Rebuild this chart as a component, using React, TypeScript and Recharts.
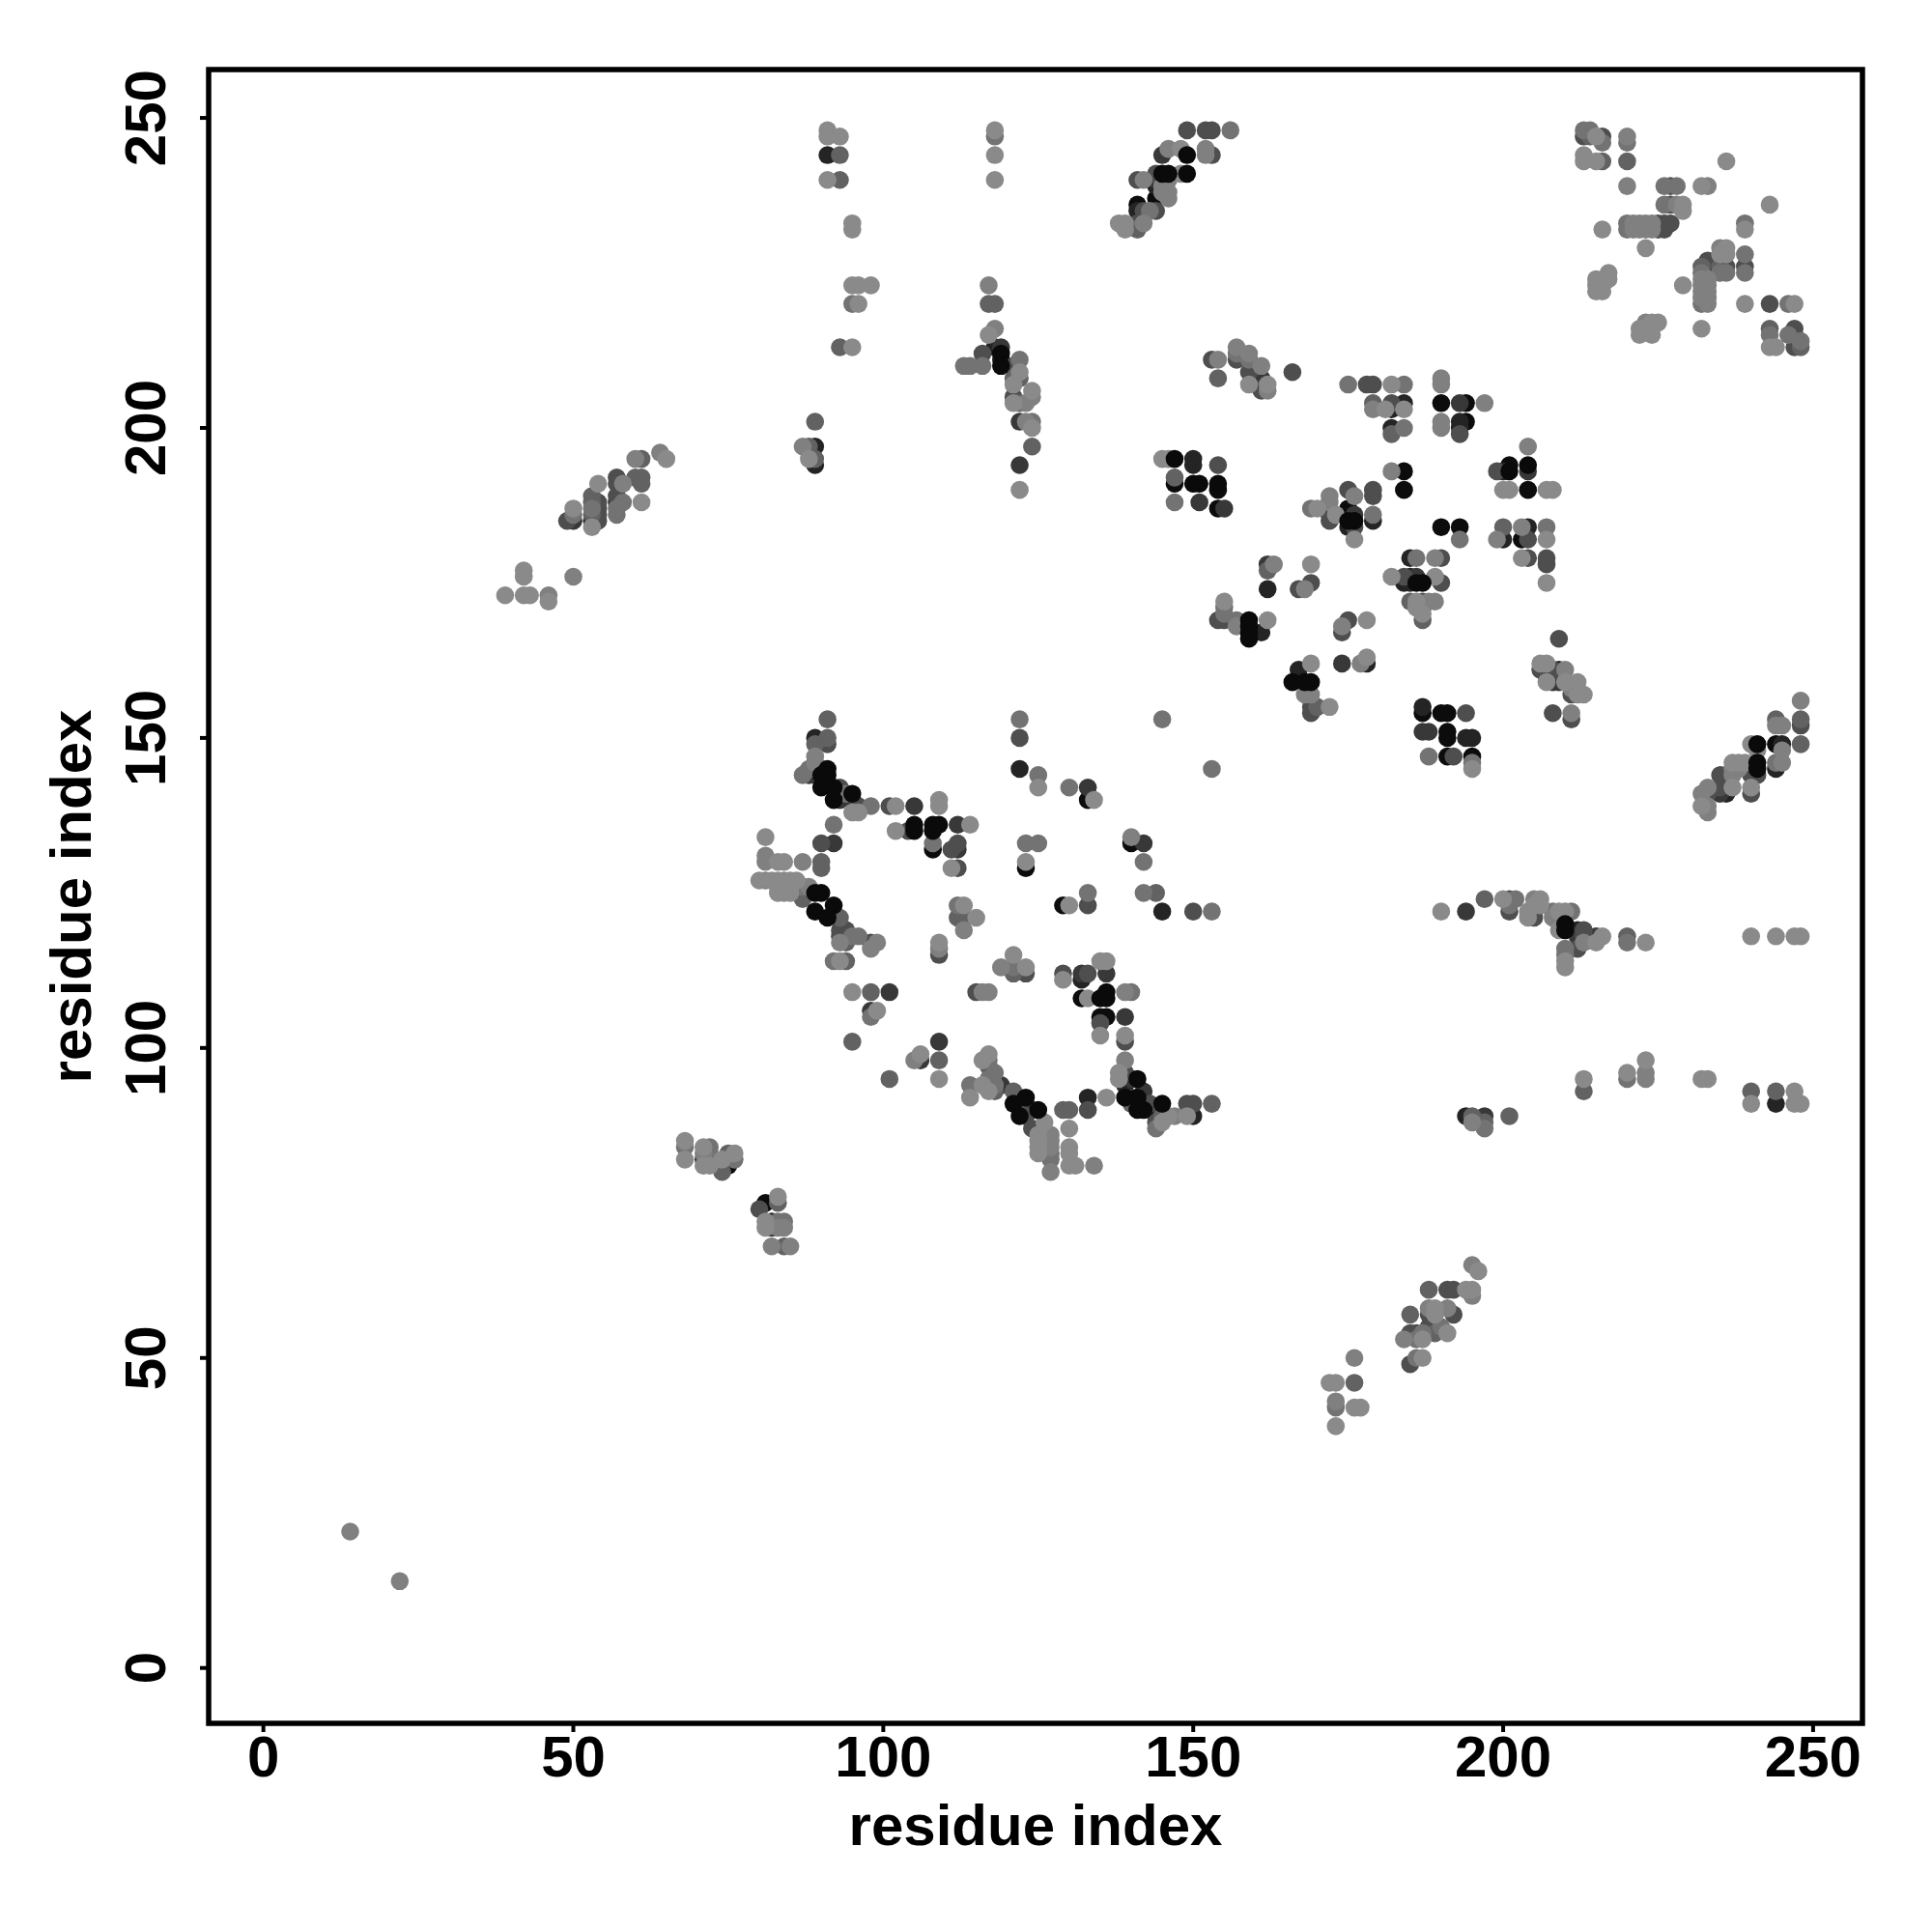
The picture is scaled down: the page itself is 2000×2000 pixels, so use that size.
import React from 'react';
import { ScatterChart, Scatter, XAxis, YAxis, ReferenceArea } from 'recharts';

type Pair = [number, number];

const X_DOMAIN: [number, number] = [-8.83, 257.96];
const Y_DOMAIN: [number, number] = [-8.93, 257.8];
const TICK_VALUES = [0, 50, 100, 150, 200, 250];
const AXIS_TITLE = 'residue index';
const FONT = '"Liberation Sans", Arial, sans-serif';
const DOT_RADIUS = 9.3;

// contacts, grouped by how dark the point is in the picture
const black: Pair[] = [
  [144,237],[141,236],[184,193],[184,190],[147,191],[154,190],[154,187],[175,187],
  [187,154],[190,154],[191,154],[191,151],[191,150],[191,147],[195,147],[190,184],[193,184],[203,182],[201,194],[204,190],
  [190,204],[194,204],[194,201],[244,149],
  [108,132],[123,129],[133,140],[140,133],[129,123],[132,108],[135,105],[136,105],
  [81,75],[75,81],[75,82],
];
const nearBlack: Pair[] = [
  [91,244],[89,197],[89,194],[53,185],[144,239],[141,235],[118,213],[150,195],[150,194],[175,184],[179,185],[182,203],[184,204],[182,200],[119,211],[162,174],[161,167],[167,161],[178,162],[185,179],[185,176],[184,175],[185,175],[187,155],[194,150],[195,150],[200,182],[204,184],[200,193],[193,201],[193,200],[245,149],[244,145],[236,143],[236,141],[212,119],[194,89],[244,91],[89,150],[89,144],[122,145],[145,122],[132,111],[133,92],[139,94],[144,89],[150,89],[82,72],[209,161],
];
const charcoal: Pair[] = [
  [145,244],[144,240],[57,188],[119,213],[122,201],[122,194],[151,188],[155,187],[161,208],[176,186],[162,178],[174,162],[208,159],[209,159],[187,151],[188,151],[186,176],[204,193],[193,204],[50,185],[194,122],[197,89],[212,118],[215,118],[235,141],[88,144],[93,140],[95,140],[105,139],[112,136],[92,133],[112,132],[101,109],[98,106],[109,101],[106,98],[133,142],[142,133],[136,112],[132,112],[139,105],[119,94],[124,90],[140,95],[142,93],[140,92],[71,82],[72,82],[82,71],
];
const darkGray: Pair[] = [
  [149,248],[152,248],[153,248],[153,244],[141,240],[144,241],[144,235],[142,235],[141,233],[57,192],[57,191],[57,189],[54,188],[54,187],[54,186],[54,185],[49,185],[116,212],[121,210],[121,205],[153,211],[157,211],[159,209],[161,206],[166,209],[178,207],[179,207],[182,204],[154,194],[175,190],[179,190],[179,189],[171,187],[172,186],[172,185],[176,184],[213,247],[216,247],[227,239],[227,236],[225,233],[225,232],[226,232],[226,233],[227,233],[233,227],[233,226],[236,226],[239,226],[243,220],[247,216],[247,215],[247,213],
  [169,175],[167,174],[154,169],[155,169],[175,169],[174,167],[169,155],[169,154],[209,166],[206,161],[207,160],[208,161],[211,157],[208,154],[211,153],[194,154],[192,147],[190,179],[184,176],[190,175],[187,172],[199,193],[207,179],[204,179],[207,178],[204,182],[193,199],
  [248,152],[240,145],[241,144],[240,144],[240,141],[235,144],[236,144],[235,142],[233,141],[201,124],[201,122],[205,122],[205,121],[213,119],[213,118],[212,116],
  [91,149],[90,145],[93,142],[96,139],[101,139],[104,135],[90,133],[111,132],[112,133],[112,129],[94,119],[93,119],[93,118],[94,118],[98,117],[129,112],[133,112],[135,104],[139,101],[133,123],[150,122],[115,109],[123,112],[109,115],[122,150],
  [122,92],[122,91],[123,89],[124,87],[133,90],[139,96],[144,88],[149,91],[150,91],[143,91],[185,54],[186,54],[185,49],[191,61],[192,61],[188,57],[192,57],[188,55],[80,74],
];
const midGray: Pair[] = [
  [93,244],[93,240],[93,213],[89,201],[88,197],[89,195],[61,195],[60,192],[61,192],[61,191],[53,189],[53,188],[53,186],[117,220],[118,220],[121,208],[122,208],[122,204],[124,197],[154,208],[179,204],[182,199],[147,192],[141,232],[232,226],[216,243],[220,243],[214,247],[243,216],[248,213],[244,93],[240,93],[213,93],[220,118],[248,153],[244,153],[248,149],[200,184],[197,124],[201,89],[195,89],[197,88],[91,153],[91,150],[89,149],[90,130],[90,129],[87,124],[93,121],[94,117],[94,114],[98,109],[95,101],[109,98],[101,95],[112,121],[113,121],[121,112],[144,125],[117,97],[118,93],[121,93],[140,91],[145,89],[129,90],[130,90],[153,91],[176,46],[185,57],[188,61],[74,80],[75,83],[83,75],[84,68],[187,171],[187,169],[185,172],[170,155],[162,177],[235,226],[189,54],
];
const gray: Pair[] = [
  [118,247],[156,248],[50,186],[53,187],[57,186],[57,187],[58,188],[95,220],[143,235],[113,210],[114,210],[116,210],[122,211],[124,201],[157,212],[159,211],[175,207],[184,207],[184,200],[169,187],[179,186],[147,188],[220,246],[213,248],[214,248],[216,246],[226,239],[228,239],[226,236],[220,233],[220,232],[239,233],[232,225],[235,225],[236,225],[239,228],[239,225],[246,220],[248,214],[243,215],[246,215],[232,220],
  [155,171],[155,170],[157,169],[186,179],[145,153],[153,145],[207,184],[193,182],[195,146],[188,147],
  [244,146],[202,124],[201,123],[208,122],[211,122],[210,116],[210,115],[220,117],[220,95],[197,87],
  [87,144],[88,145],[98,139],[94,141],[92,136],[108,133],[87,126],[95,118],[96,118],[92,114],[98,105],[112,123],[125,144],[130,142],[123,133],[125,133],[142,130],[133,125],[142,125],[153,122],[140,109],[121,113],[122,153],
  [117,98],[118,96],[117,95],[118,94],[114,94],[144,87],[127,83],[127,82],[173,42],[68,84],[72,84],[72,83],[76,82],[83,72],[84,72],[186,50],[186,53],[187,54],[190,55],
];
const lightGray: Pair[] = [
  [64,196],[60,195],[58,191],[50,176],[46,173],[87,197],[146,245],[152,245],[152,244],[142,240],[146,240],[145,238],[146,238],[146,237],[145,239],[142,233],[117,223],[118,216],[124,205],[123,204],[123,201],[154,211],[157,213],[159,212],[161,210],[162,206],[176,189],[172,189],[172,188],[179,203],[182,193],
  [190,208],[190,207],[197,204],[190,201],[190,200],[204,197],[220,247],[220,239],[233,239],[228,236],[223,233],[224,233],[221,233],[222,233],[221,232],[222,232],[223,232],[224,232],[223,217],[235,229],[233,224],[232,224],[233,223],[232,223],[233,222],[232,222],[233,221],[232,221],[233,220],
  [163,178],[168,174],[157,168],[174,168],[177,162],[168,157],[169,157],[189,179],[188,172],[189,172],[199,182],[203,184],[211,158],[210,161],[211,154],
  [248,156],[245,152],[244,152],[245,148],[245,146],[237,145],[238,145],[237,144],[233,142],[232,141],[233,139],[233,138],[205,124],[208,121],[213,117],[223,96],[223,95],[195,88],
  [89,147],[89,146],[81,131],[81,130],[87,130],[81,127],[88,126],[93,117],[99,117],[98,116],[105,98],[113,119],[109,116],[116,109],[117,109],[119,113],[140,134],[139,109],[139,98],
  [127,86],[127,85],[127,84],[127,80],[134,81],[176,50],[173,43],[147,89],[188,58],[184,53],[71,83],[83,71],[84,71],[82,68],[85,68],[14,22],[22,14],[195,65],[195,60],[191,58],
];
const palest: Pair[] = [
  [91,248],[91,247],[93,247],[91,240],[95,233],[95,232],[95,223],[96,223],[98,223],[96,220],[95,213],[88,195],[65,195],[61,188],[54,191],[53,184],[50,187],[42,177],[42,176],[39,173],[42,173],[43,173],[46,172],[118,248],[118,244],[118,240],[148,245],[148,241],[138,233],[139,233],[139,232],[117,215],[122,209],[121,207],[121,204],[124,206],[124,200],[122,190],[159,207],[162,207],[182,207],[184,203],[181,203],[145,195],[146,195],[170,187],[173,186],[176,182],
  [213,244],[213,243],[215,247],[215,243],[236,243],[232,239],[243,236],[216,232],[229,236],[229,235],[223,229],[239,232],[229,223],[239,220],[247,220],[217,225],[215,224],[217,224],[215,223],[216,223],[215,222],[216,222],[225,217],[224,217],[222,216],[223,216],[222,215],[224,215],[232,216],[236,229],[236,228],[235,228],[243,213],[244,213],
  [155,172],[162,169],[169,178],[178,169],[178,163],[169,162],[172,155],[182,176],[189,176],[186,172],[186,171],[187,170],[206,162],[207,162],[207,159],[210,159],[212,159],[213,157],[212,157],[195,145],[207,182],[203,179],[207,175],[200,190],[201,190],[207,190],[208,190],
  [240,149],[241,148],[240,142],[237,146],[238,146],[239,146],[237,142],[232,139],[190,122],[200,124],[204,122],[204,121],[206,124],[205,123],[206,123],[209,122],[210,122],[209,119],[216,118],[215,117],[210,114],[210,113],[223,117],[240,118],[244,118],[247,118],[248,118],[223,98],[220,96],[213,95],[232,95],[233,95],[240,91],[247,93],[247,91],[248,91],
  [96,138],[95,138],[102,139],[109,140],[109,139],[102,135],[114,136],[111,129],[81,134],[83,130],[84,130],[80,127],[82,127],[83,127],[84,127],[85,127],[86,127],[83,125],[84,125],[85,125],[83,126],[85,126],[93,114],[95,109],[99,106],[106,99],[109,95],[113,123],[115,121],[109,117],[125,142],[134,140],[123,130],[130,123],[121,115],[123,113],[135,114],[136,114],[129,111],[133,108],[135,102],[139,102],
  [117,99],[116,98],[114,92],[116,94],[117,93],[126,88],[125,86],[125,85],[125,84],[125,83],[130,87],[130,84],[130,83],[130,81],[131,81],[136,92],[138,96],[138,95],[145,88],[146,89],[149,89],[172,46],[173,46],[176,42],[177,42],[173,39],[187,50],[187,53],
  [68,85],[68,82],[71,84],[71,81],[72,81],[74,82],[76,83],[83,76],[81,72],[81,71],[196,64],[195,61],[194,61],[189,57],[191,54],[189,58],
];
// black points that sit over the grey ones in the picture, so drawn last
const blackOnTop: Pair[] = [
  [149,244],[145,241],[146,241],[149,241],[119,212],[119,210],[147,195],[150,191],[151,191],[154,191],[175,185],[176,185],
  [159,169],[159,168],[159,167],[159,166],[166,159],[168,159],[169,159],[186,175],[187,175],[201,193],[204,194],
  [241,149],[241,146],[241,145],[210,120],[210,119],
  [91,145],[91,144],[90,144],[90,142],[92,142],[92,140],[95,141],[105,136],[105,135],[108,136],[109,136],[108,135],[89,125],[90,125],[89,122],[92,123],[91,121],[135,108],[136,109],[136,108],
  [123,92],[121,91],[122,89],[125,90],[141,95],[139,92],[142,90],[145,91],[141,92],[141,90],
];

const SHADES: { points: Pair[]; fill: string }[] = [
  { points: black, fill: '#0c0c0c' },
  { points: nearBlack, fill: '#242424' },
  { points: charcoal, fill: '#383838' },
  { points: darkGray, fill: '#4e4e4e' },
  { points: midGray, fill: '#626262' },
  { points: gray, fill: '#737373' },
  { points: lightGray, fill: '#808080' },
  { points: palest, fill: '#8a8a8a' },
  { points: blackOnTop, fill: '#0a0a0a' },
];

const toRows = (pairs: Pair[]) => pairs.map(([x, y]) => ({ x, y }));

function XTick({ x, y, payload }: any) {
  return (
    <text x={x} y={y} textAnchor="middle" fontFamily={FONT} fontWeight="bold" fontSize={60} fill="#000">
      {payload.value}
    </text>
  );
}

function YTick({ x, y, payload }: any) {
  return (
    <text
      x={x}
      y={y}
      transform={`rotate(-90 ${x} ${y})`}
      textAnchor="middle"
      fontFamily={FONT}
      fontWeight="bold"
      fontSize={60}
      fill="#000"
    >
      {payload.value}
    </text>
  );
}

const titleStyle = { fontFamily: FONT, fontWeight: 'bold', fontSize: 60, fill: '#000' };

export default function App() {
  return (
    <div style={{ position: 'absolute', left: 0, top: 0, width: 2000, height: 2000, background: '#fff' }}>
      <ScatterChart width={2000} height={2000} margin={{ top: 72, right: 72, bottom: 86, left: 86 }}>
        <XAxis
          type="number"
          dataKey="x"
          domain={X_DOMAIN}
          ticks={TICK_VALUES}
          height={130}
          axisLine={false}
          tickSize={9}
          tickMargin={46}
          tickLine={{ stroke: '#000', strokeWidth: 4 }}
          tick={<XTick />}
          interval={0}
          label={{ value: AXIS_TITLE, position: 'insideBottom', offset: 4, style: titleStyle }}
        />
        <YAxis
          type="number"
          dataKey="y"
          domain={Y_DOMAIN}
          ticks={TICK_VALUES}
          width={130}
          axisLine={false}
          tickSize={9}
          tickMargin={36}
          tickLine={{ stroke: '#000', strokeWidth: 4 }}
          tick={<YTick />}
          interval={0}
          label={{ value: AXIS_TITLE, angle: -90, position: 'insideLeft', offset: -13, style: { ...titleStyle, textAnchor: 'middle' } }}
        />
        {SHADES.map((shade) => (
          <Scatter
            key={shade.fill}
            data={toRows(shade.points)}
            fill={shade.fill}
            isAnimationActive={false}
            shape={(p: any) => <circle cx={p.cx} cy={p.cy} r={DOT_RADIUS} fill={shade.fill} />}
          />
        ))}
        <ReferenceArea
          x1={X_DOMAIN[0]}
          x2={X_DOMAIN[1]}
          y1={Y_DOMAIN[0]}
          y2={Y_DOMAIN[1]}
          fill="none"
          stroke="#000"
          strokeWidth={5.5}
          ifOverflow="visible"
        />
      </ScatterChart>
    </div>
  );
}
